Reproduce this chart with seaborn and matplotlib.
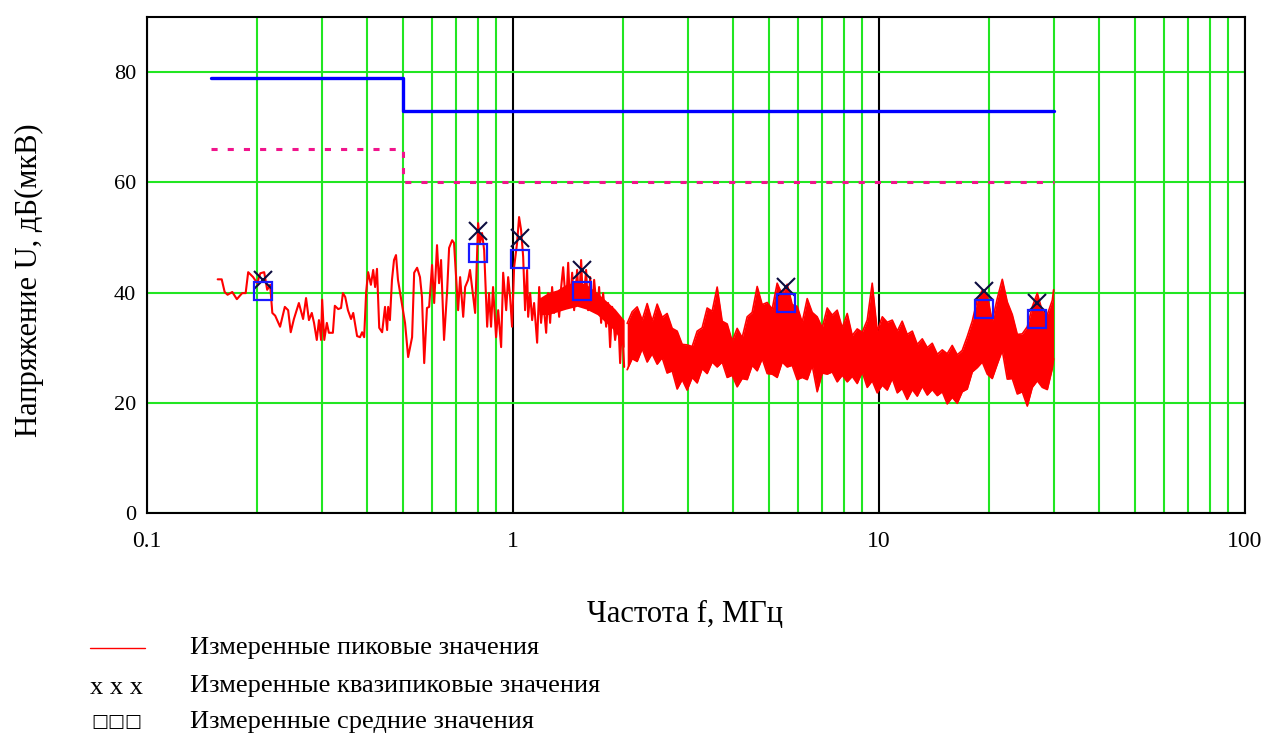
import numpy as np
import matplotlib
matplotlib.use('Agg')
import matplotlib.pyplot as plt
import seaborn as sns
from matplotlib.lines import Line2D
from matplotlib.ticker import FixedLocator, FixedFormatter, LogLocator, NullFormatter

# peak trace, 0.15 - 2 MHz (single sweep points), MHz / dBuV
peak_f = [0.156, 0.160, 0.163, 0.166, 0.171, 0.176, 0.182, 0.186, 0.189, 0.195,
          0.200, 0.204, 0.209, 0.213, 0.217, 0.220, 0.224, 0.231, 0.238, 0.243,
          0.247, 0.252, 0.260, 0.267, 0.272, 0.277, 0.282, 0.286, 0.291, 0.295,
          0.299, 0.301, 0.305, 0.310, 0.314, 0.322, 0.326, 0.333, 0.339, 0.343,
          0.348, 0.354, 0.361, 0.366, 0.375, 0.382, 0.387, 0.392, 0.397, 0.402,
          0.409, 0.415, 0.420, 0.425, 0.431, 0.439, 0.447, 0.453, 0.456, 0.461,
          0.467, 0.473, 0.479, 0.485, 0.495, 0.507, 0.517, 0.530, 0.537, 0.547,
          0.557, 0.564, 0.572, 0.582, 0.590, 0.601, 0.609, 0.620, 0.628, 0.636,
          0.648, 0.661, 0.669, 0.682, 0.690, 0.708, 0.717, 0.731, 0.740, 0.754,
          0.763, 0.773, 0.788, 0.803, 0.813, 0.823, 0.834, 0.850, 0.860, 0.871,
          0.882, 0.899, 0.911, 0.928, 0.940, 0.958, 0.970, 0.982, 0.994, 1.007,
          1.026, 1.039, 1.052, 1.066, 1.079, 1.093, 1.100, 1.114, 1.128, 1.142,
          1.164, 1.179, 1.193, 1.209, 1.232, 1.247, 1.263, 1.279, 1.295, 1.320,
          1.337, 1.354, 1.371, 1.397, 1.415, 1.432, 1.451, 1.469, 1.497, 1.516,
          1.535, 1.555, 1.584, 1.604, 1.625, 1.645, 1.666, 1.698, 1.719, 1.741,
          1.763, 1.797, 1.819, 1.842, 1.866, 1.901, 1.938, 1.962, 1.987, 2.012]
peak_u = [42.4, 42.4, 40.1, 39.6, 40.1, 38.8, 39.9, 39.9, 43.7, 42.8,
          41.7, 43.5, 43.7, 40.5, 41.4, 36.3, 35.8, 33.8, 37.4, 36.8,
          32.8, 35.2, 38.1, 35.2, 39.0, 35.0, 36.3, 34.5, 31.4, 35.0,
          31.4, 38.7, 31.4, 34.5, 32.7, 32.7, 37.6, 37.0, 37.2, 39.9,
          39.2, 36.8, 35.2, 36.3, 32.1, 31.9, 32.8, 31.9, 40.1, 43.7,
          41.4, 44.1, 41.0, 44.3, 33.6, 32.8, 37.4, 33.2, 37.4, 35.0,
          42.3, 45.9, 46.8, 42.3, 38.7, 34.5, 28.3, 31.9, 43.6, 44.5,
          42.8, 39.2, 27.2, 37.2, 37.4, 45.0, 38.1, 48.6, 41.7, 45.9,
          31.4, 40.5, 48.1, 49.5, 49.0, 36.8, 42.8, 35.6, 41.0, 42.3,
          44.1, 41.0, 36.3, 52.6, 49.0, 50.8, 47.7, 33.8, 39.9, 33.8,
          41.0, 31.9, 36.8, 30.1, 43.6, 36.8, 42.8, 39.2, 33.8, 44.6,
          49.0, 53.7, 51.4, 46.5, 36.8, 44.1, 35.6, 39.9, 35.0, 38.1,
          30.9, 41.0, 34.5, 38.7, 32.7, 39.9, 34.5, 41.0, 36.3, 39.9,
          35.6, 41.0, 44.6, 37.4, 45.4, 37.4, 43.6, 36.8, 44.1, 38.1,
          45.9, 37.4, 44.1, 36.8, 42.8, 36.8, 42.3, 36.3, 41.0, 34.5,
          39.9, 33.8, 38.1, 30.1, 37.4, 31.4, 35.6, 27.2, 35.0, 26.5]

# solid core of the trace between 1.2 and 2 MHz
core_f = [1.179, 1.247, 1.320, 1.397, 1.497, 1.584, 1.698, 1.797, 1.901, 2.012]
core_top = [39.0, 40.0, 40.5, 41.5, 42.0, 41.5, 40.0, 38.5, 37.0, 35.0]
core_bot = [36.0, 36.0, 36.5, 37.0, 37.5, 37.0, 36.0, 34.5, 33.0, 30.0]

# peak trace, 2 - 30 MHz: the sweep is too dense to resolve, so top and bottom of the band
band_f = [2.051, 2.116, 2.184, 2.254, 2.326, 2.400, 2.477, 2.556, 2.637, 2.722,
          2.809, 2.899, 2.991, 3.087, 3.186, 3.287, 3.392, 3.501, 3.613, 3.728,
          3.848, 3.970, 4.097, 4.228, 4.364, 4.503, 4.647, 4.796, 4.949, 5.107,
          5.270, 5.439, 5.613, 5.792, 5.977, 6.168, 6.366, 6.569, 6.779, 6.996,
          7.219, 7.450, 7.688, 7.934, 8.188, 8.450, 8.719, 8.998, 9.286, 9.583,
          9.889, 10.21, 10.53, 10.87, 11.22, 11.57, 11.94, 12.33, 12.72, 13.13,
          13.55, 13.98, 14.43, 14.89, 15.36, 15.85, 16.36, 16.88, 17.42, 17.98,
          18.56, 19.15, 19.76, 20.39, 21.04, 21.72, 22.41, 23.13, 23.87, 24.63,
          25.42, 26.23, 27.07, 27.93, 28.83, 29.75, 30.0]
band_top = [34.4, 36.5, 37.4, 35.0, 38.0, 34.8, 37.9, 35.5, 36.2, 33.5,
            33.0, 30.6, 30.5, 30.2, 33.0, 33.6, 37.2, 36.6, 41.0, 34.8,
            34.3, 31.2, 33.5, 31.8, 35.6, 36.4, 41.1, 37.8, 38.2, 37.0,
            41.7, 39.6, 41.5, 37.8, 37.5, 34.6, 38.9, 36.4, 35.6, 33.6,
            37.2, 35.9, 36.8, 33.6, 36.2, 32.2, 33.4, 32.8, 35.0, 41.7,
            33.0, 35.6, 34.6, 35.0, 33.0, 34.8, 32.4, 33.0, 30.6, 31.6,
            30.0, 30.8, 28.8, 29.6, 28.9, 30.4, 28.7, 29.5, 32.0, 34.8,
            38.7, 40.4, 39.5, 34.8, 38.9, 42.4, 38.3, 36.0, 32.4, 32.5,
            33.8, 37.4, 39.9, 36.6, 36.0, 38.6, 40.5]
band_bot = [26.0, 28.0, 27.5, 29.8, 27.4, 28.9, 27.0, 28.2, 25.4, 25.8,
            22.5, 24.2, 22.3, 24.6, 23.6, 26.2, 25.3, 27.4, 26.5, 27.4,
            24.6, 25.0, 22.9, 24.4, 24.2, 26.8, 25.8, 28.0, 25.3, 25.2,
            24.6, 27.4, 26.5, 26.8, 24.2, 24.6, 24.2, 26.8, 22.0, 25.4,
            25.2, 25.6, 23.8, 25.0, 23.8, 24.8, 23.5, 25.6, 22.8, 24.0,
            21.8, 23.2, 22.3, 24.4, 21.8, 22.6, 20.6, 22.4, 21.2, 23.0,
            21.4, 22.4, 21.3, 22.0, 19.8, 21.0, 19.9, 22.0, 22.5, 25.6,
            26.4, 27.4, 25.2, 24.4, 27.0, 29.5, 24.3, 24.4, 21.6, 22.0,
            19.4, 22.8, 24.0, 22.8, 22.4, 26.2, 28.0]

# final measurements
meas_f = [0.207, 0.802, 1.045, 1.548, 5.58, 19.4, 27.0]
qp_u = [42.3, 51.1, 49.9, 44.1, 41.0, 40.2, 38.1]
av_u = [40.2, 47.1, 46.0, 40.2, 38.1, 37.0, 35.2]

# limits
lim_f = [0.15, 0.5, 0.5, 30]
lim_qp = [79, 79, 73, 73]
lim_av = [66, 66, 60, 60]

GREEN = '#22e622'
SERIF = ['Liberation Serif', 'DejaVu Serif']

sns.set_theme(style="white")
plt.rcParams['font.family'] = SERIF
plt.rcParams['text.color'] = 'black'
plt.rcParams['axes.labelcolor'] = 'black'

fig = plt.figure(figsize=(12.69, 7.33), dpi=100)
ax = fig.add_axes([147 / 1269, 1 - 513 / 733, 1098 / 1269, 496 / 733])

# measured peak values
sns.lineplot(x=peak_f, y=peak_u, ax=ax, color='red', lw=1.5, sort=False, estimator=None)
ax.fill_between(core_f, core_bot, core_top, color='red', lw=0)
ax.fill_between(band_f, band_bot, band_top, color='red', lw=0)
sns.lineplot(x=band_f, y=band_top, ax=ax, color='red', lw=1.2, sort=False, estimator=None)
sns.lineplot(x=band_f, y=band_bot, ax=ax, color='red', lw=1.2, sort=False, estimator=None)

# limit lines
sns.lineplot(x=lim_f, y=lim_qp, ax=ax, color='#0000ff', lw=2.4, sort=False, estimator=None)
sns.lineplot(x=lim_f, y=lim_av, ax=ax, color='#f0148c', lw=2.2, sort=False, estimator=None,
             linestyle=(0, (2, 3.3)))

# quasi-peak and average points
sns.lineplot(x=meas_f, y=qp_u, ax=ax, marker='x', linestyle='', color='#0d0d40',
             mec='#0d0d40', ms=13, mew=1.5, sort=False, estimator=None)
sns.lineplot(x=meas_f, y=av_u, ax=ax, marker='s', linestyle='', color='#1a1aff',
             mec='#1a1aff', mfc='none', ms=13, mew=1.6, sort=False, estimator=None)

ax.set_xscale('log')
ax.set_xlim(0.1, 100)
ax.set_ylim(0, 90)
ax.xaxis.set_major_locator(FixedLocator([0.1, 1, 10, 100]))
ax.xaxis.set_major_formatter(FixedFormatter(['0.1', '1', '10', '100']))
ax.xaxis.set_minor_locator(LogLocator(base=10, subs=np.arange(2, 10), numticks=20))
ax.xaxis.set_minor_formatter(NullFormatter())
ax.set_yticks([0, 20, 40, 60, 80])

ax.set_axisbelow(True)
ax.xaxis.grid(True, which='minor', color=GREEN, lw=1.5)
ax.xaxis.grid(True, which='major', color='black', lw=1.5)
ax.yaxis.grid(True, which='major', color=GREEN, lw=1.5)
ax.tick_params(which='both', length=0, colors='black', labelcolor='black')
ax.tick_params(axis='y', labelsize=16, pad=8)
ax.tick_params(axis='x', labelsize=17, pad=13)
for s in ax.spines.values():
    s.set_color('black')
    s.set_linewidth(1.5)

ax.set_xlabel('Частота f, МГц', fontsize=22, color='black')
ax.xaxis.set_label_coords(0.49, -0.175)
ax.set_ylabel('Напряжение U, дБ(мкВ)', fontsize=22, color='black')
ax.yaxis.set_label_coords(-0.094, 0.47)

# legend block under the chart
W, H = 1269, 733
fig.add_artist(Line2D([90 / W, 145 / W], [1 - 648 / H] * 2, color='red', lw=1))
fig.text(117 / W, 1 - 688 / H, 'x x x', ha='center', va='center', fontsize=19)
fig.text(117 / W, 1 - 722 / H, '□□□', ha='center', va='center', fontsize=13,
         family=['DejaVu Sans'])
rows = ['Измеренные пиковые значения', 'Измеренные квазипиковые значения',
        'Измеренные средние значения']
for txt, yy in zip(rows, [648, 686, 722]):
    fig.text(190 / W, 1 - yy / H, txt, ha='left', va='center', fontsize=19)

fig.savefig('out.png', dpi=100)
